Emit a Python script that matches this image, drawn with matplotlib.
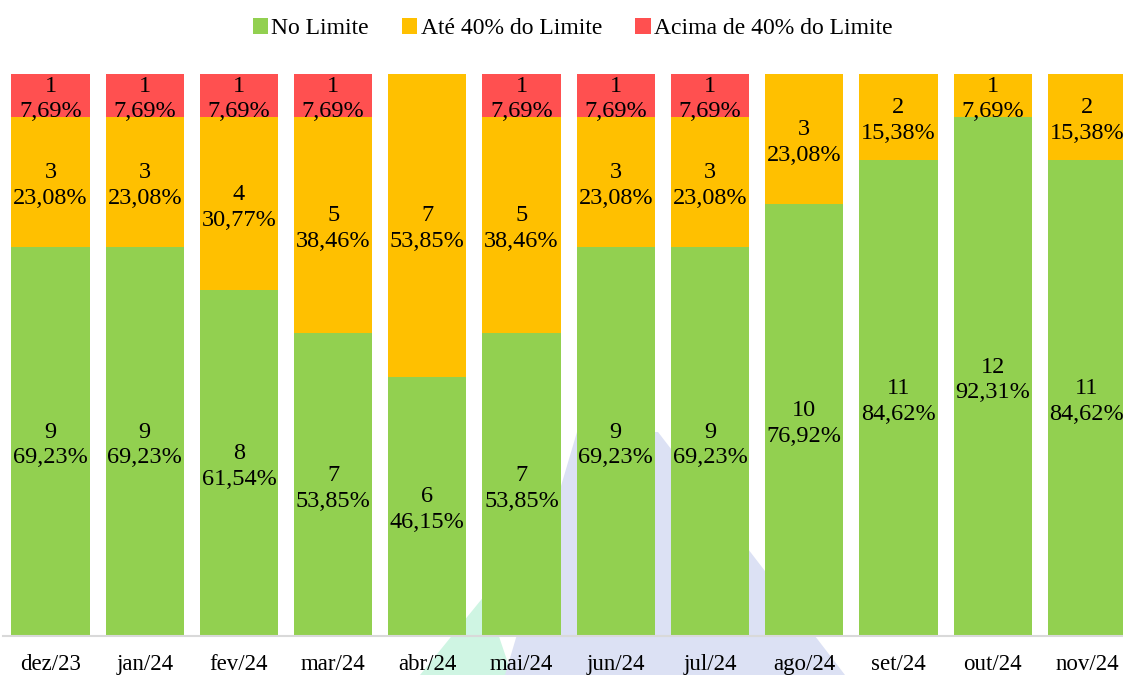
import matplotlib.pyplot as plt
from matplotlib.patches import Polygon, Patch
import numpy as np

plt.rcParams['font.family'] = ['Liberation Serif', 'DejaVu Serif']

meses = ['dez/23', 'jan/24', 'fev/24', 'mar/24', 'abr/24', 'mai/24',
         'jun/24', 'jul/24', 'ago/24', 'set/24', 'out/24', 'nov/24']
no_limite = [9, 9, 8, 7, 6, 7, 9, 9, 10, 11, 12, 11]
ate_40 = [3, 3, 4, 5, 7, 5, 3, 3, 3, 2, 1, 2]
acima_40 = [1, 1, 1, 1, 0, 1, 1, 1, 0, 0, 0, 0]

series = [('No Limite', no_limite, '#92D050'),
          ('Até 40% do Limite', ate_40, '#FFC000'),
          ('Acima de 40% do Limite', acima_40, '#FF5050')]

fig = plt.figure(figsize=(11.23, 6.75), dpi=100)

# faint logo behind the chart (pixel coordinates)
bg = fig.add_axes([0, 0, 1, 1], zorder=0)
bg.set_xlim(0, 1123)
bg.set_ylim(675, 0)
bg.axis('off')
bg.add_patch(Polygon([(485, 595), (420, 675), (512, 675)], closed=True,
                     facecolor='#CFF5E3', edgecolor='none'))
bg.add_patch(Polygon([(505, 675), (577, 432), (658, 432), (845, 675)], closed=True,
                     facecolor='#DCE1F4', edgecolor='none'))

ax = fig.add_axes([3.4 / 1123, 39 / 675, 1130.6 / 1123, 562 / 675], zorder=1)
ax.patch.set_alpha(0)

x = np.arange(len(meses))
totais = np.array(no_limite) + np.array(ate_40) + np.array(acima_40)
base = np.zeros(len(meses))
for nome, vals, cor in series:
    vals = np.array(vals)
    frac = vals / totais
    ax.bar(x, frac, 0.83, bottom=base, color=cor, label=nome)
    for i in range(len(meses)):
        if vals[i] == 0:
            continue
        pct = f'{frac[i] * 100:.2f}%'.replace('.', ',')
        ax.annotate(f'{vals[i]}\n{pct}', (x[i], base[i] + frac[i] / 2),
                    xytext=(0, -2.5), textcoords='offset points',
                    ha='center', va='center', fontsize=17.5, linespacing=1.3, color='black')
    base = base + frac

ax.set_xlim(-0.5, 11.5)
ax.set_ylim(0, 1)
ax.set_yticks([])
ax.set_xticks(x)
ax.set_xticklabels(meses, fontsize=16.5)
ax.tick_params(axis='x', length=0, pad=13)
for s in ['top', 'right', 'left']:
    ax.spines[s].set_visible(False)
ax.spines['bottom'].set_color('#D9D9D9')
ax.spines['bottom'].set_linewidth(1.5)

handles = [Patch(facecolor=c, label=n) for n, _, c in series]
fig.legend(handles=handles, loc='center', bbox_to_anchor=(0.51, 0.958), ncol=3,
           frameon=False, fontsize=17, handlelength=0.65, handleheight=0.65,
           handletextpad=0.15, columnspacing=1.4)

fig.savefig('out.png', dpi=100)
